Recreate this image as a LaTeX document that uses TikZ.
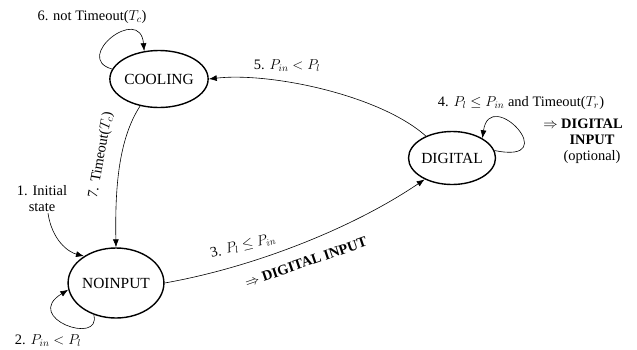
\documentclass[tikz,border=0pt]{standalone}
\usepackage{fontspec}
\setmainfont{Liberation Serif}
\usetikzlibrary{shapes.geometric,arrows.meta}
\tikzset{
  state/.style={ellipse,draw,line width=1.4pt,inner sep=0pt,
    font=\fontsize{15.5}{17}\selectfont},
  lbl/.style={font=\fontsize{14.5}{16}\selectfont,inner sep=1pt},
  trans/.style={-{Latex[length=8pt,width=6pt]},semithick},
}
\begin{document}
\begin{tikzpicture}[x=1bp,y=1bp]
	\useasboundingbox (0,0) rectangle (637,-349);
	
	% States
	\node[state,minimum width=82bp,minimum height=57bp] (cooling) at (159,-79) {COOLING};
	\node[state,minimum width=88bp,minimum height=70bp] (noinput) at (116,-283) {NOINPUT};
	\node[state,minimum width=87bp,minimum height=53bp] (digital) at (452,-158) {DIGITAL};
	
	% Initial state
	\node[lbl,align=center] (init) at (42,-199) {1. Initial\\state};
	\draw[trans] ([xshift=6bp]init.south) .. controls (52,-240) and (68,-252) .. (noinput.140);
	
	% Self loops
	\draw[trans] (noinput.235) .. controls (102,-346) and (22,-318) .. (noinput.188);
	\node[lbl] (lbltwo) at (48,-341) {2. $P_{in} < P_l$};
	
	\draw[trans] (cooling.168) .. controls (72,-58) and (140,-4) .. (cooling.118);
	\node[lbl] (lblsix) at (92,-17) {6. not Timeout($T_c$)};
	
	\draw[trans] (digital.10) .. controls (565,-165) and (490,-85) .. (digital.33);
	\node[lbl] (lblfour) at (521,-103) {4. $P_l \le P_{in}$ and Timeout($T_r$)};
	\node[lbl,align=center] (lblout) at (592,-141)
		{\llap{$\Rightarrow$\ }\textbf{DIGITAL}\\\textbf{INPUT}\\(optional)};
	
	% Transitions between states
	\draw[trans] (noinput.east) .. controls (250,-268) and (350,-230) .. (digital.218);
	\node[lbl,rotate=14] (lblthree) at (243,-246) {3. $P_l \le P_{in}$};
	\node[lbl,rotate=19] (lblthreeb) at (306,-262) {$\Rightarrow$ \textbf{DIGITAL INPUT}};
	
	\draw[trans] (digital.140) .. controls (380,-95) and (270,-72) .. (cooling.east);
	\node[lbl] (lblfive) at (287,-66) {5. $P_{in} < P_l$};
	
	\draw[trans] (cooling.235) .. controls (118,-140) and (115,-190) .. (noinput.north);
	\node[lbl,rotate=80] (lblseven) at (101,-155) {7. Timeout($T_c$)};
\end{tikzpicture}
\end{document}
